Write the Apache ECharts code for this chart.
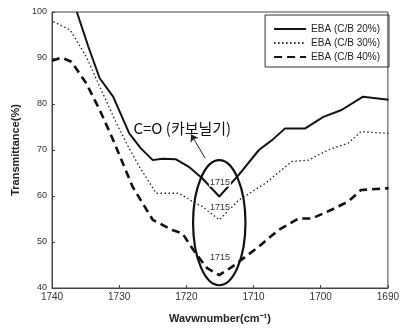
<!DOCTYPE html>
<html>
<head>
<meta charset="utf-8">
<script src="https://cdn.jsdelivr.net/npm/echarts@6/dist/echarts.min.js"></script>
<style>
  html, body { margin: 0; padding: 0; background: #fff; }
  #chart { width: 402px; height: 334px; }
</style>
</head>
<body>
<div id="chart"></div>
<script>
var FONT = "'Liberation Sans Narrow', 'Liberation Sans', Arial, sans-serif";
var KFONT = "'Noto Sans CJK KR', 'Liberation Sans', sans-serif";

var seriesNames = ['EBA (C/B 20%)', 'EBA (C/B 30%)', 'EBA (C/B 40%)'];

// wavenumber, transmittance
var cb20 = [
    [1736.3, 100], [1734.6, 92.5], [1732.9, 85.6], [1730.9, 81.6], [1728.5, 73.6],
    [1726.8, 70.4], [1725.0, 67.8], [1723.6, 68.1], [1721.6, 68.0], [1719.5, 66.2],
    [1717.6, 63.8], [1715.1, 59.9], [1712.2, 64.6], [1709.2, 70.0], [1707.2, 72.2],
    [1705.3, 74.7], [1702.3, 74.7], [1699.6, 77.2], [1696.9, 78.7], [1693.7, 81.6],
    [1689.9, 80.9]
];
var cb30 = [
    [1739.8, 97.9], [1737.3, 96.1], [1734.9, 90.3], [1732.9, 83.8], [1730.4, 75.8],
    [1728.6, 70.6], [1727.0, 66.4], [1724.5, 60.6], [1721.1, 60.6], [1719.1, 58.8],
    [1717.6, 57.7], [1715.1, 54.8], [1712.2, 59.1], [1708.2, 62.8], [1704.3, 67.5],
    [1701.8, 67.8], [1698.9, 70.0], [1695.9, 71.5], [1694.0, 74.0], [1689.9, 73.6]
];
var cb40 = [
    [1740.0, 89.4], [1738.6, 90.1], [1737.1, 89.2], [1734.9, 84.5], [1732.9, 78.7],
    [1730.9, 72.2], [1728.0, 62.0], [1725.0, 54.8], [1722.1, 52.6], [1720.6, 51.9],
    [1718.6, 47.5], [1716.9, 44.3], [1715.1, 42.8], [1713.2, 44.6], [1709.2, 49.0],
    [1706.3, 52.6], [1703.3, 55.1], [1701.3, 55.1], [1698.4, 57.0], [1695.9, 58.8],
    [1694.0, 61.3], [1689.9, 61.7]
];

var peakLabel = '1715';
var peakLabelPos = [[1715, 63.0], [1715, 57.6], [1715, 46.7]];
var ellipseCenter = [1715.1, 54.2];
var ellipseRadius = [3.9, 13.6];
var noteText = 'C=O (카보닐기)';
var notePos = [1720.6, 74.8];
var arrowFrom = [1717.2, 68.2];
var arrowTo = [1719.3, 73.4];

var chart = echarts.init(document.getElementById('chart'));

var option = {
    animation: false,
    backgroundColor: '#fff',
    grid: { left: 52, right: 12, top: 12, bottom: 46 },
    legend: {
        data: seriesNames,
        orient: 'vertical',
        right: 13,
        top: 15,
        itemWidth: 32,
        itemHeight: 8,
        itemGap: 4,
        padding: [9, 9, 5, 8],
        borderColor: '#333',
        borderWidth: 1,
        itemStyle: { opacity: 0 },
        textStyle: { fontFamily: FONT, fontSize: 10, color: '#222' }
    },
    xAxis: {
        type: 'value',
        min: 1690,
        max: 1740,
        interval: 10,
        inverse: true,
        name: 'Wavwnumber(cm⁻¹)',
        nameLocation: 'middle',
        nameGap: 25,
        nameTextStyle: { fontFamily: FONT, fontSize: 11, fontWeight: 'bold', color: '#222' },
        axisLine: { lineStyle: { color: '#444', width: 1 } },
        axisTick: { inside: true, length: 3, lineStyle: { color: '#444' } },
        axisLabel: {
            fontFamily: FONT, fontSize: 10, color: '#333', margin: 4,
            formatter: function (v) { return String(v); }
        },
        splitLine: { show: false }
    },
    yAxis: {
        type: 'value',
        min: 40,
        max: 100,
        interval: 10,
        name: 'Transmittance(%)',
        nameLocation: 'middle',
        nameGap: 30,
        nameTextStyle: { fontFamily: FONT, fontSize: 11, fontWeight: 'bold', color: '#222' },
        axisLine: { lineStyle: { color: '#444', width: 1 } },
        axisTick: { inside: true, length: 3, lineStyle: { color: '#444' } },
        axisLabel: { fontFamily: FONT, fontSize: 9, color: '#333', margin: 5 },
        splitLine: { show: false }
    },
    series: [
        {
            name: seriesNames[0], type: 'line', data: cb20, showSymbol: false, symbol: 'none',
            lineStyle: { color: '#111', width: 2, type: 'solid' },
            itemStyle: { color: '#111' },
            markLine: {
                silent: true,
                symbol: ['none', 'arrow'],
                symbolSize: 7,
                label: { show: false },
                lineStyle: { color: '#222', width: 1, type: 'solid' },
                data: [[{ coord: arrowFrom }, { coord: arrowTo }]]
            }
        },
        {
            name: seriesNames[1], type: 'line', data: cb30, showSymbol: false, symbol: 'none',
            lineStyle: { color: '#222', width: 1.3, type: [1.5, 2.5] },
            itemStyle: { color: '#222' }
        },
        {
            name: seriesNames[2], type: 'line', data: cb40, showSymbol: false, symbol: 'none',
            lineStyle: { color: '#111', width: 2.6, type: [8, 5] },
            itemStyle: { color: '#111' }
        }
    ]
};

chart.setOption(option);

// frame box + annotations placed through the chart's own coordinate system
function toPx(p) { return chart.convertToPixel({ gridIndex: 0 }, p); }

var tl = toPx([1740, 100]);
var br = toPx([1690, 40]);
var c = toPx(ellipseCenter);
var r1 = toPx([ellipseCenter[0] - ellipseRadius[0], ellipseCenter[1] + ellipseRadius[1]]);
var graphics = [
    {
        type: 'rect', silent: true,
        shape: { x: tl[0], y: tl[1], width: br[0] - tl[0], height: br[1] - tl[1] },
        style: { fill: null, stroke: '#444', lineWidth: 1 }
    },
    {
        type: 'ellipse', silent: true, z: 10,
        shape: { cx: c[0], cy: c[1], rx: Math.abs(r1[0] - c[0]), ry: Math.abs(c[1] - r1[1]) },
        style: { fill: null, stroke: '#111', lineWidth: 2.2 }
    }
];
peakLabelPos.forEach(function (p) {
    var q = toPx(p);
    graphics.push({
        type: 'text', silent: true, z: 11, x: q[0], y: q[1],
        style: {
            text: peakLabel, fontFamily: FONT, fontSize: 9, fill: '#333',
            backgroundColor: '#fff', padding: [0, 1],
            align: 'center', verticalAlign: 'middle'
        }
    });
});
var n = toPx(notePos);
graphics.push({
    type: 'text', silent: true, z: 11, x: n[0], y: n[1],
    style: {
        text: noteText, fontFamily: KFONT, fontSize: 15, fill: '#111',
        align: 'center', verticalAlign: 'middle'
    }
});
chart.setOption({ graphic: graphics });
</script>
</body>
</html>
